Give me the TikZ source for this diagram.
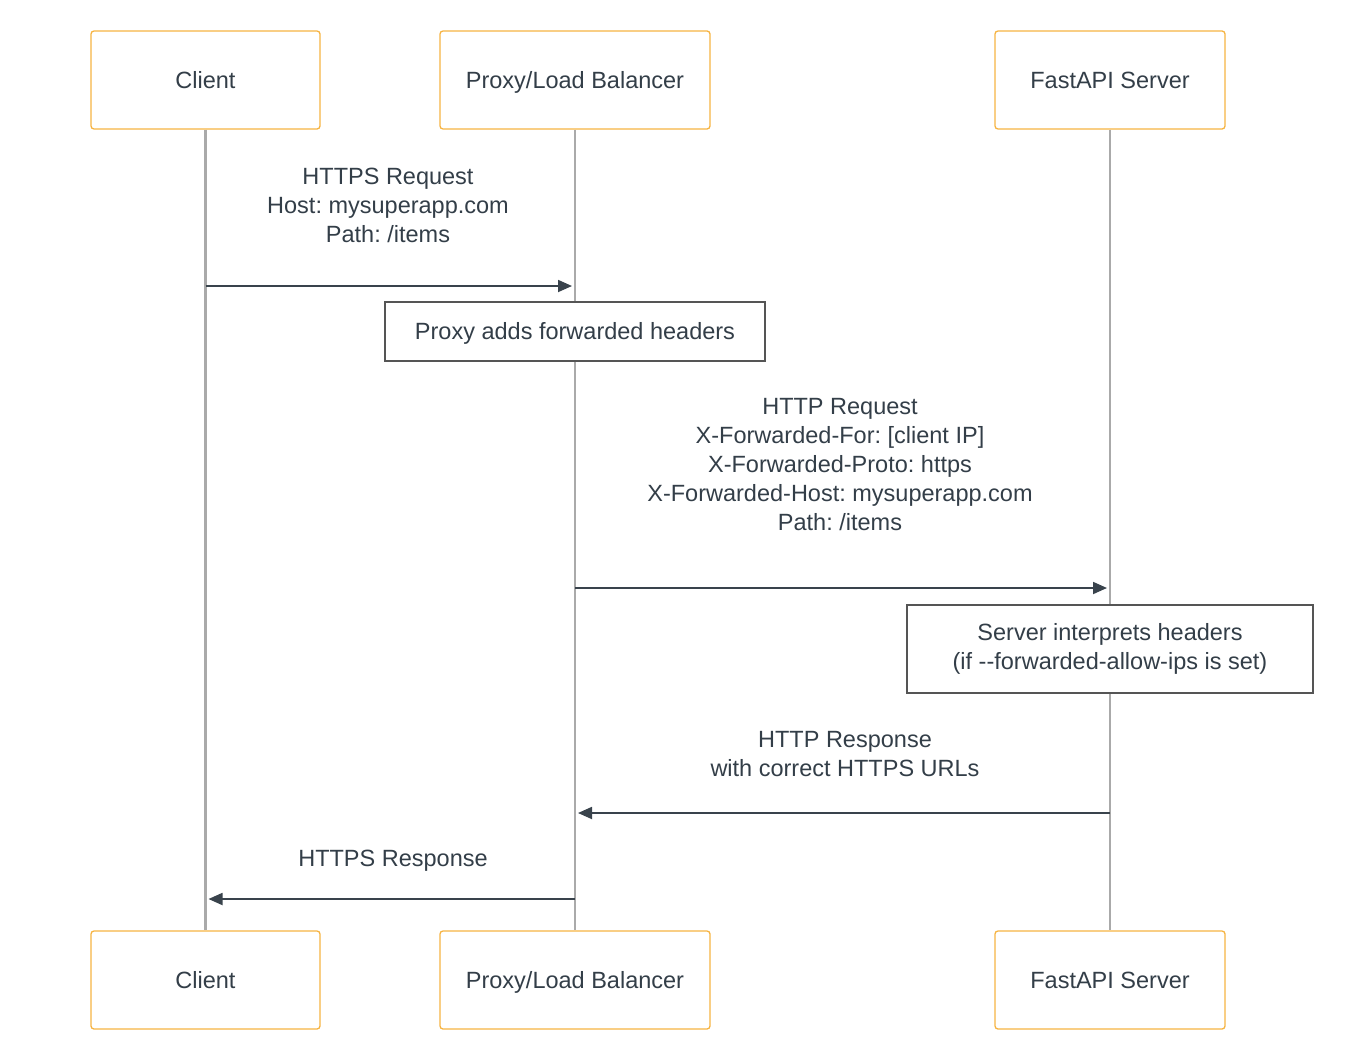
\documentclass[tikz,border=0pt]{standalone}
\usepackage{fontspec}
\setmainfont{Liberation Sans}
\usetikzlibrary{arrows.meta}

\definecolor{actorborder}{HTML}{F6B443}
\definecolor{inktext}{HTML}{333E48}
\definecolor{inkline}{HTML}{39434C}
\definecolor{lifegray}{HTML}{AAAAAA}
\definecolor{noteborder}{HTML}{555555}

\frenchspacing

\begin{document}
\begin{tikzpicture}[x=1pt, y=-1pt,
    every node/.style={font=\fontsize{23.5}{29}\selectfont, text=inktext},
    actor/.style={draw=actorborder, fill=white, rounded corners=3pt, line width=1.3pt, minimum height=98pt, inner sep=0pt, text height=18pt, text depth=2pt},
    note/.style={draw=noteborder, fill=white, line width=1.3pt, inner sep=0pt, align=center},
    label/.style={align=center, inner sep=0pt},
    lifeline/.style={draw=lifegray, line width=2.6pt},
    msg/.style={draw=inkline, line width=1.8pt, -{Triangle[length=14pt, width=12pt]}}]

\useasboundingbox (0,0) rectangle (1362,1060);

% Define the lifeline positions
\def\xclient{205.5}
\def\xproxy{575}
\def\xserver{1110}

% Actor boxes (top and bottom)
\foreach \ypos/\tag in {80/top, 980/bot} {
    \node[actor, minimum width=229pt] (client_\tag) at (\xclient, \ypos) {Client};
    \node[actor, minimum width=270pt] (proxy_\tag) at (\xproxy, \ypos) {Proxy/Load Balancer};
    \node[actor, minimum width=230pt] (server_\tag) at (\xserver, \ypos) {FastAPI Server};
}

% Lifelines
\draw[lifeline] (client_top) -- (client_bot);
\draw[lifeline] (proxy_top) -- (proxy_bot);
\draw[lifeline] (server_top) -- (server_bot);

% Message end points
\coordinate (m1_from) at (\xclient, 286);
\coordinate (m1_to) at (572, 286);
\coordinate (m2_from) at (\xproxy, 588);
\coordinate (m2_to) at (1107, 588);
\coordinate (m3_from) at (\xserver, 813);
\coordinate (m3_to) at (578, 813);
\coordinate (m4_from) at (\xproxy, 899);
\coordinate (m4_to) at (208.5, 899);

% Messages
\draw[msg] (m1_from) -- (m1_to);
\node[label] (m1_label) at (388, 205) {HTTPS Request\\Host: mysuperapp.com\\Path: /items};

\node[note, minimum width=380pt, minimum height=59pt, text height=18pt, text depth=2pt] (note_proxy) at (\xproxy, 331.5) {Proxy adds forwarded headers};

\draw[msg] (m2_from) -- (m2_to);
\node[label] (m2_label) at (840, 465) {HTTP Request\\X-Forwarded-For: [client IP]\\X-Forwarded-Proto: https\\X-Forwarded-Host: mysuperapp.com\\Path: /items};

\node[note, minimum width=406pt, minimum height=88pt] (note_server) at (\xserver, 649) {Server interprets headers\\(if -{}-forwarded-allow-ips is set)};

\draw[msg] (m3_from) -- (m3_to);
\node[label] (m3_label) at (845, 754) {HTTP Response\\with correct HTTPS URLs};

\draw[msg] (m4_from) -- (m4_to);
\node[label] (m4_label) at (393, 861) {HTTPS Response};

\end{tikzpicture}
\end{document}
